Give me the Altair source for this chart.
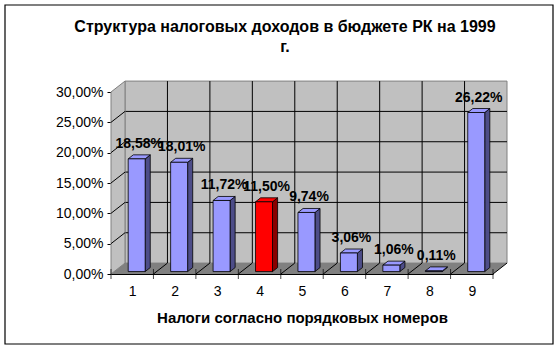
import altair as alt
import pandas as pd

# ---- data ----
categories = [1, 2, 3, 4, 5, 6, 7, 8, 9]
values = [0.1858, 0.1801, 0.1172, 0.1150, 0.0974, 0.0306, 0.0106, 0.0011, 0.2622]
highlight = 4
y_ticks = [0.0, 0.05, 0.10, 0.15, 0.20, 0.25, 0.30]
title_lines = ["Структура налоговых доходов в бюджете РК на 1999", "г."]
x_title = "Налоги согласно порядковых номеров"

# ---- geometry (data units) ----
XMIN, XMAX = 0.5, 9.5
YMAX = 0.30
WALL_DX, WALL_DY = 0.33, 0.018      # depth of the 3D box
BAR_SHIFT, BAR_HALF = 0.105, 0.20   # bar front face placement
BAR_DX, BAR_DY = 0.12, 0.0066       # bar depth
BAR_BASE = 0.004

FONT = "Liberation Sans"
FRONT, SIDE = "#9999FF", "#4D4D88"
FRONT_H, SIDE_H = "#FF0000", "#8A0000"

SX = alt.Scale(domain=[XMIN, XMAX], nice=False, zero=False)
SY = alt.Scale(domain=[0, YMAX], nice=False, zero=False)
AX = alt.Axis(values=categories, format="d", ticks=False, grid=False, domainColor="black",
              labelFont=FONT, labelFontSize=14, labelColor="black", labelPadding=10,
              title=x_title, titleFont=FONT, titleFontSize=15, titleFontWeight="bold",
              titleColor="black", titlePadding=12)
AY = alt.Axis(values=y_ticks, grid=False, domainColor="black", tickColor="black", tickSize=4,
              labelExpr="replace(format(datum.value, '.2%'), '.', ',')",
              labelFont=FONT, labelFontSize=14, labelColor="black", labelPadding=4, title=None)


def X(f):
    return alt.X(f, type="quantitative", scale=SX, axis=AX)


def Y(f):
    return alt.Y(f, type="quantitative", scale=SY, axis=AY)


# ---- tables ----
bars = pd.DataFrame({"cat": categories, "value": values})
bars["xl"] = bars["cat"] + BAR_SHIFT - BAR_HALF
bars["xr"] = bars["cat"] + BAR_SHIFT + BAR_HALF
bars["base"] = BAR_BASE
bars["top"] = BAR_BASE + bars["value"]
bars["front"] = [FRONT_H if c == highlight else FRONT for c in categories]
bars["side"] = [SIDE_H if c == highlight else SIDE for c in categories]
bars["lx"] = bars["cat"] + BAR_SHIFT + BAR_DX / 2
bars["ly"] = bars["top"] + BAR_DY

side_rows, top_rows = [], []
for r in bars.to_dict("records"):
    side_rows.append({"cat": r["cat"], "x": r["xr"], "y": r["base"], "y2": r["top"], "c": r["side"]})
    side_rows.append({"cat": r["cat"], "x": r["xr"] + BAR_DX, "y": r["base"] + BAR_DY,
                      "y2": r["top"] + BAR_DY, "c": r["side"]})
    top_rows.append({"cat": r["cat"], "y": r["top"], "x": r["xl"], "x2": r["xr"], "c": r["front"]})
    top_rows.append({"cat": r["cat"], "y": r["top"] + BAR_DY, "x": r["xl"] + BAR_DX,
                     "x2": r["xr"] + BAR_DX, "c": r["front"]})
side_df = pd.DataFrame(side_rows)
top_df = pd.DataFrame(top_rows)

wall = pd.DataFrame({"x": [XMIN + WALL_DX], "x2": [XMAX + WALL_DX], "y": [WALL_DY], "y2": [YMAX + WALL_DY]})
hgrid = pd.DataFrame({"y": [t + WALL_DY for t in y_ticks[1:-1]], "x": XMIN + WALL_DX, "x2": XMAX + WALL_DX})
bounds = [c + 0.5 for c in categories[:-1]]
vgrid = pd.DataFrame({"x": [b + WALL_DX for b in bounds], "y": WALL_DY, "y2": YMAX + WALL_DY})
left_wall = pd.DataFrame({"x": [XMIN, XMIN + WALL_DX], "y": [0, WALL_DY], "y2": [YMAX, YMAX + WALL_DY]})
floor = pd.DataFrame({"y": [0, WALL_DY], "x": [XMIN, XMIN + WALL_DX], "x2": [XMAX, XMAX + WALL_DX]})

ldiag_rows = []
for t in y_ticks[1:-1]:
    ldiag_rows += [{"k": t, "x": XMIN, "y": t}, {"k": t, "x": XMIN + WALL_DX, "y": t + WALL_DY}]
ldiag = pd.DataFrame(ldiag_rows)
fdiag_rows = []
for b in bounds + [XMAX]:
    fdiag_rows += [{"k": b, "x": b, "y": 0}, {"k": b, "x": b + WALL_DX, "y": WALL_DY}]
fdiag = pd.DataFrame(fdiag_rows)
xticks = pd.DataFrame({"x": [XMIN] + bounds + [XMAX], "y": 0.0})

# ---- layers ----
border = alt.Chart(pd.DataFrame({"a": [0]})).mark_rect(fill=None, stroke="black", strokeWidth=1.2).encode(
    x=alt.value(-106), x2=alt.value(442), y=alt.value(-87), y2=alt.value(252))

title = alt.Chart(pd.DataFrame({"a": [0]})).mark_text(
    font=FONT, fontSize=16, fontWeight="bold", align="center", baseline="alphabetic",
    lineHeight=20, color="black").encode(
    x=alt.value(174), y=alt.value(-60), text=alt.value(title_lines))

back = alt.Chart(wall).mark_rect(fill="#C0C0C0", stroke="#808080", strokeWidth=1).encode(
    x=X("x"), x2="x2", y=Y("y"), y2="y2")
hg = alt.Chart(hgrid).mark_rule(color="black", strokeWidth=1).encode(x=X("x"), x2="x2", y=Y("y"))
vg = alt.Chart(vgrid).mark_rule(color="black", strokeWidth=1).encode(x=X("x"), y=Y("y"), y2="y2")
lw = alt.Chart(left_wall).mark_area(color="#C0C0C0", stroke="#808080", strokeWidth=1).encode(
    x=X("x"), y=Y("y"), y2="y2")
ld = alt.Chart(ldiag).mark_line(color="black", strokeWidth=1).encode(x=X("x"), y=Y("y"), detail="k:N")
fl = alt.Chart(floor).mark_area(orient="horizontal", color="#808080").encode(
    y=Y("y"), x=X("x"), x2="x2")
fd = alt.Chart(fdiag).mark_line(color="black", strokeWidth=1).encode(x=X("x"), y=Y("y"), detail="k:N")
tk = alt.Chart(xticks).mark_tick(orient="vertical", color="black", size=10, thickness=1).encode(
    x=X("x"), y=Y("y"))

side = alt.Chart(side_df).mark_area(stroke="black", strokeWidth=0.8).encode(
    x=X("x"), y=Y("y"), y2="y2", detail="cat:N", color=alt.Color("c:N", scale=None))
topf = alt.Chart(top_df).mark_area(orient="horizontal", stroke="black", strokeWidth=0.8).encode(
    y=Y("y"), x=X("x"), x2="x2", detail="cat:N", color=alt.Color("c:N", scale=None))
front = alt.Chart(bars).mark_rect(stroke="black", strokeWidth=0.8).encode(
    x=X("xl"), x2="xr", y=Y("base"), y2="top", color=alt.Color("front:N", scale=None))
labels = alt.Chart(bars).transform_calculate(
    lab="replace(format(datum.value, '.2%'), '.', ',')").mark_text(
    font=FONT, fontSize=14, fontWeight="bold", baseline="bottom", dy=-4, color="black").encode(
    x=X("lx"), y=Y("ly"), text="lab:N")

chart = alt.layer(border, title, back, hg, vg, lw, ld, fl, fd, tk, side, topf, front, labels).properties(
    width=382, height=182,
    padding={"left": 111, "top": 92, "right": 66, "bottom": 76},
    autosize=alt.AutoSizeParams(type="none"),
    background="white",
).configure_view(stroke=None)

chart.save("out.html", embed_options={"renderer": "svg", "actions": False})
